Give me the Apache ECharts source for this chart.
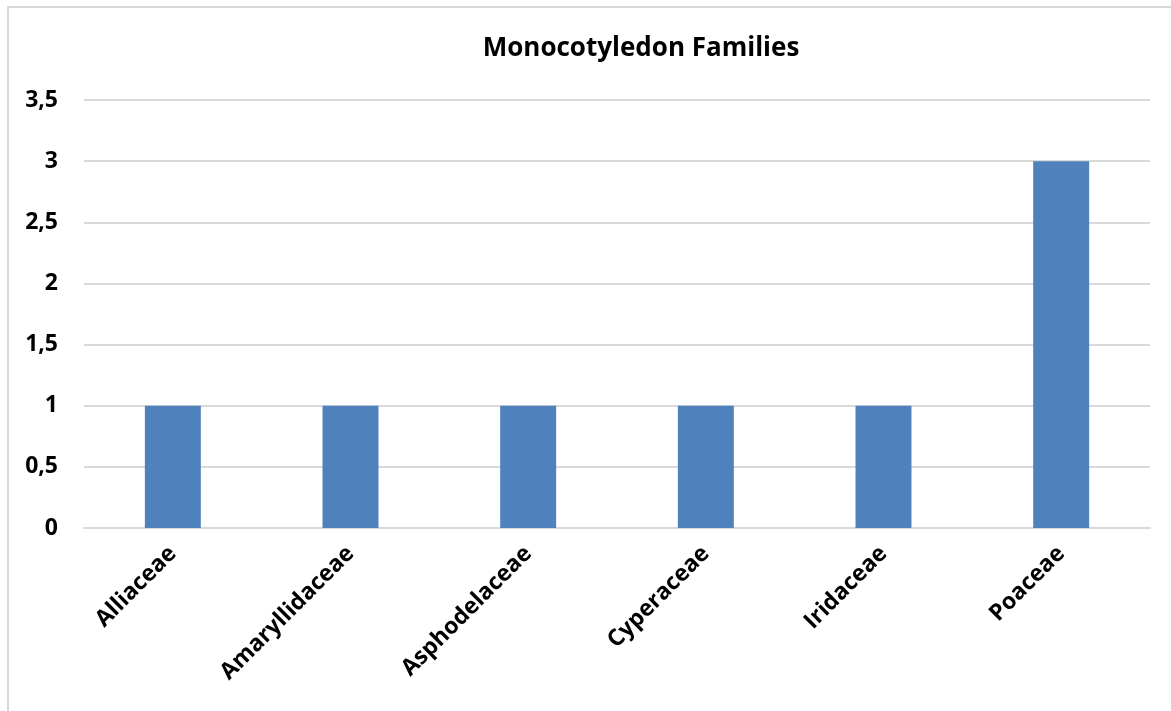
<!DOCTYPE html>
<html>
<head>
<meta charset="utf-8">
<script src="https://cdn.jsdelivr.net/npm/echarts@6/dist/echarts.min.js"></script>
<style>
  html, body { margin: 0; padding: 0; background: #fff; }
  #chart { width: 1171px; height: 711px; }
</style>
</head>
<body>
<div id="chart"></div>
<script>
// Number of species per monocotyledon family
const families = ['Alliaceae', 'Amaryllidaceae', 'Asphodelaceae', 'Cyperaceae', 'Iridaceae', 'Poaceae'];
const counts = [1, 1, 1, 1, 1, 3];
const chartTitle = 'Monocotyledon Families';

const FONT = '"Open Sans", "Noto Sans", sans-serif';
const chart = echarts.init(document.getElementById('chart'));

chart.setOption({
  backgroundColor: '#ffffff',
  animation: false,
  graphic: [{
    type: 'rect',
    shape: { x: 8, y: 7, width: 1200, height: 760 },
    style: { fill: 'none', stroke: '#d9d9d9', lineWidth: 2 },
    silent: true
  }],
  title: {
    text: chartTitle,
    left: 636,
    textAlign: 'center',
    top: 31,
    textStyle: { fontFamily: FONT, fontWeight: 'bold', fontSize: 26, color: '#000' }
  },
  grid: { left: 84, right: 21, top: 100, bottom: 183, containLabel: false },
  xAxis: {
    type: 'category',
    data: families,
    axisLine: { show: true, lineStyle: { color: '#d9d9d9', width: 2 } },
    axisTick: { show: false },
    axisLabel: {
      rotate: 45,
      margin: 22,
      interval: 0,
      fontFamily: FONT,
      fontWeight: 'bold',
      fontSize: 23,
      color: '#000'
    }
  },
  yAxis: {
    type: 'value',
    min: 0,
    max: 3.5,
    interval: 0.5,
    axisLine: { show: false },
    axisTick: { show: false },
    splitLine: { lineStyle: { color: '#d9d9d9', width: 2 } },
    axisLabel: {
      margin: 26,
      fontFamily: FONT,
      fontWeight: 'bold',
      fontSize: 23,
      color: '#000',
      formatter: v => String(v).replace('.', ',')
    }
  },
  series: [{
    type: 'bar',
    data: counts,
    barWidth: '31.5%',
    itemStyle: { color: '#4f81bd' }
  }]
});
</script>
</body>
</html>
